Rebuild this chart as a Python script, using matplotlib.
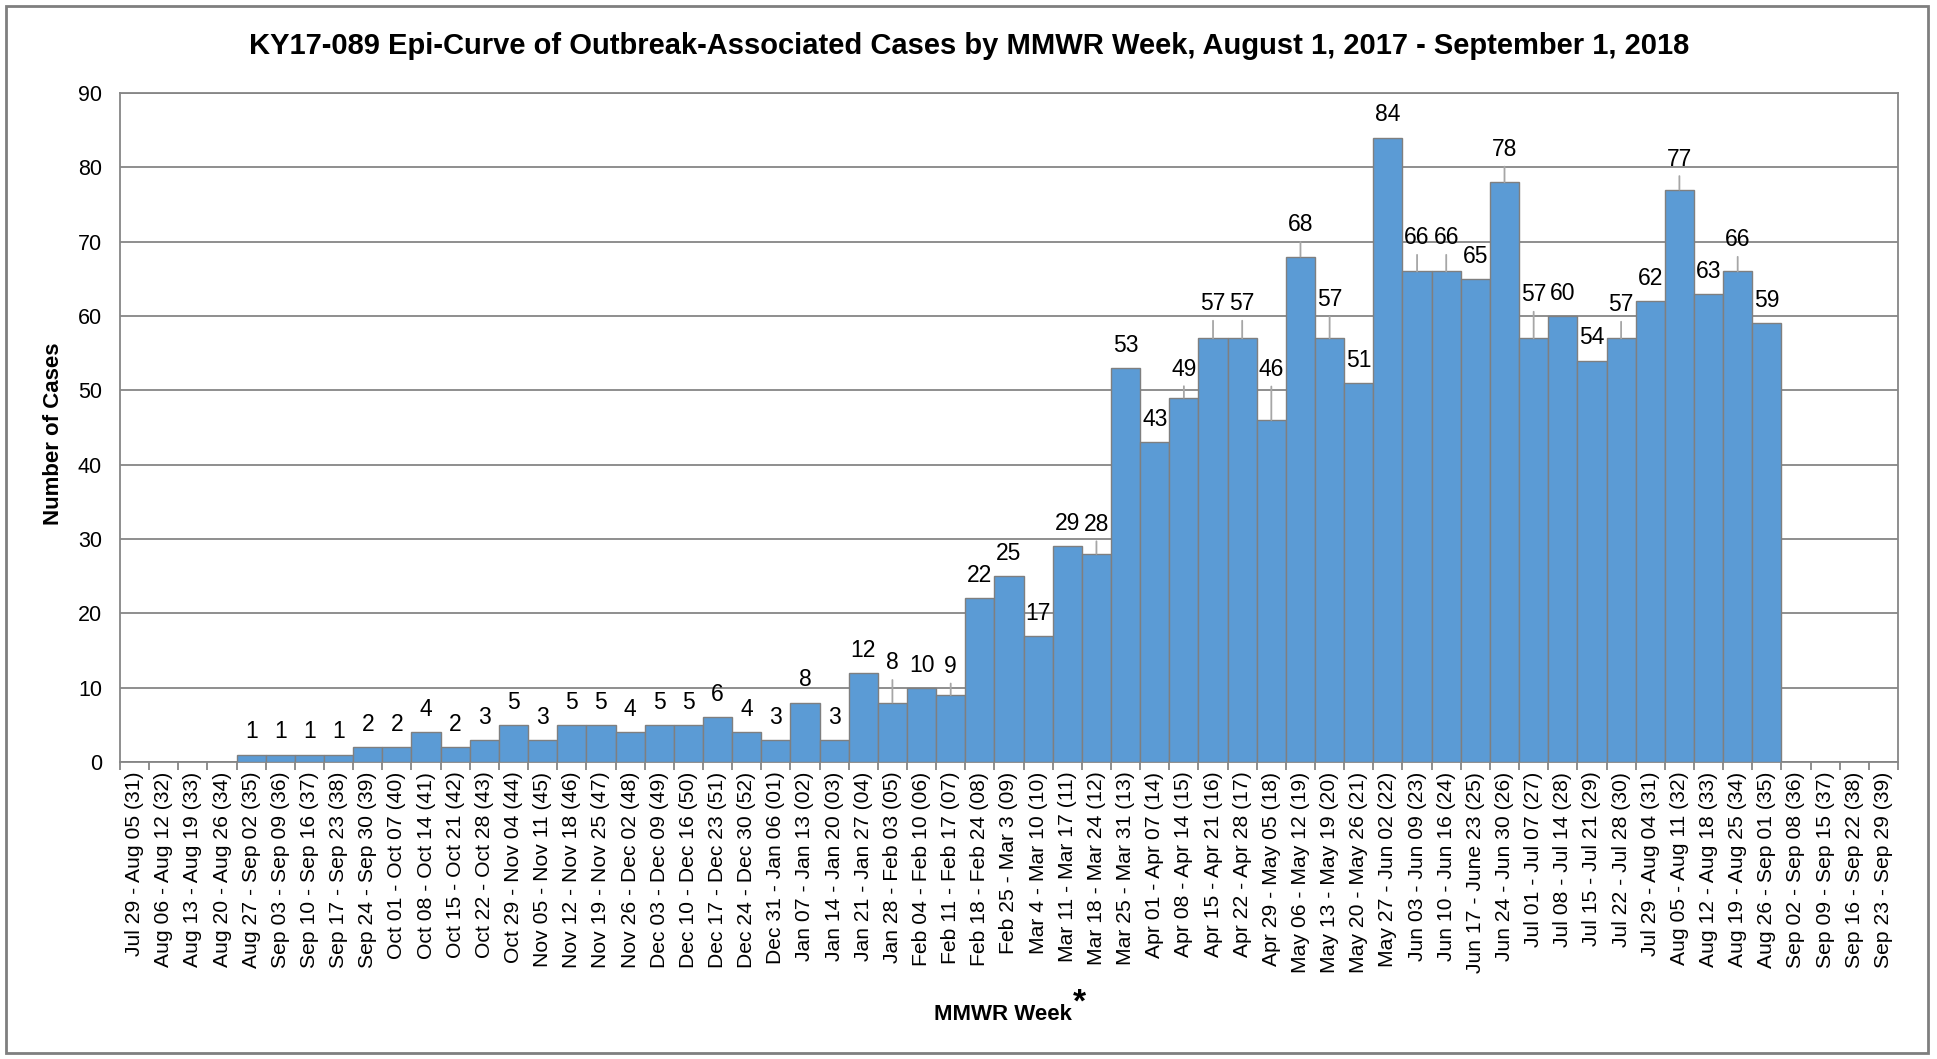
import matplotlib
matplotlib.use("Agg")
import matplotlib.pyplot as plt
from matplotlib.patches import Rectangle

plt.rcParams['font.family'] = ['Liberation Sans', 'DejaVu Sans']

week_labels = [
    "Jul 29 - Aug 05 (31)", "Aug 06 - Aug 12 (32)", "Aug 13 - Aug 19 (33)", "Aug 20 - Aug 26 (34)",
    "Aug 27 - Sep 02 (35)", "Sep 03 - Sep 09 (36)", "Sep 10 - Sep 16 (37)", "Sep 17 - Sep 23 (38)",
    "Sep 24 - Sep 30 (39)", "Oct 01 - Oct 07 (40)", "Oct 08 - Oct 14 (41)", "Oct 15 - Oct 21 (42)",
    "Oct 22 - Oct 28 (43)", "Oct 29 - Nov 04 (44)", "Nov 05 - Nov 11 (45)", "Nov 12 - Nov 18 (46)",
    "Nov 19 - Nov 25 (47)", "Nov 26 - Dec 02 (48)", "Dec 03 - Dec 09 (49)", "Dec 10 - Dec 16 (50)",
    "Dec 17 - Dec 23 (51)", "Dec 24 - Dec 30 (52)", "Dec 31 - Jan 06 (01)", "Jan 07 - Jan 13 (02)",
    "Jan 14 - Jan 20 (03)", "Jan 21 - Jan 27 (04)", "Jan 28 - Feb 03 (05)", "Feb 04 - Feb 10 (06)",
    "Feb 11 - Feb 17 (07)", "Feb 18 - Feb 24 (08)", "Feb 25 - Mar 3 (09)", "Mar 4 - Mar 10 (10)",
    "Mar 11 - Mar 17 (11)", "Mar 18 - Mar 24 (12)", "Mar 25 - Mar 31 (13)", "Apr 01 - Apr 07 (14)",
    "Apr 08 - Apr 14 (15)", "Apr 15 - Apr 21 (16)", "Apr 22 - Apr 28 (17)", "Apr 29 - May 05 (18)",
    "May 06 - May 12 (19)", "May 13 - May 19 (20)", "May 20 - May 26 (21)", "May 27 - Jun 02 (22)",
    "Jun 03 - Jun 09 (23)", "Jun 10 - Jun 16 (24)", "Jun 17 - June 23 (25)", "Jun 24 - Jun 30 (26)",
    "Jul 01 - Jul 07 (27)", "Jul 08 - Jul 14 (28)", "Jul 15 - Jul 21 (29)", "Jul 22 - Jul 28 (30)",
    "Jul 29 - Aug 04 (31)", "Aug 05 - Aug 11 (32)", "Aug 12 - Aug 18 (33)", "Aug 19 - Aug 25 (34)",
    "Aug 26 - Sep 01 (35)", "Sep 02 - Sep 08 (36)", "Sep 09 - Sep 15 (37)", "Sep 16 - Sep 22 (38)",
    "Sep 23 - Sep 29 (39)",
]

cases = [
    0, 0, 0, 0, 1, 1, 1, 1, 2, 2, 4, 2, 3, 5, 3, 5, 5, 4, 5, 5, 6, 4,
    3, 8, 3, 12, 8, 10, 9, 22, 25, 17, 29, 28, 53, 43, 49, 57, 57, 46,
    68, 57, 51, 84, 66, 66, 65, 78, 57, 60, 54, 57, 62, 77, 63, 66, 59,
    0, 0, 0, 0,
]

y_ticks = [0, 10, 20, 30, 40, 50, 60, 70, 80, 90]

# Extra lift (in pixels) of data labels that were dragged up in the original, shown with leader lines
label_lift_px = {26: 17, 28: 6, 33: 7, 36: 6, 37: 12, 38: 12, 39: 28, 40: 9, 41: 16,
                 44: 11, 45: 11, 47: 10, 48: 21, 51: 11, 53: 8, 55: 9}

W, H = 1937, 1059
fig = plt.figure(figsize=(W / 100, H / 100), dpi=100)
ax = fig.add_axes([120 / W, 1 - 762 / H, (1898 - 120) / W, (762 - 93) / H])

x = list(range(len(cases)))
ax.bar(x, cases, width=1.0, color='#5B9BD5', edgecolor='#7F7F7F', linewidth=1.0, zorder=3)

for xi, v in zip(x, cases):
    if v <= 0:
        continue
    lift = label_lift_px.get(xi, 0)
    off_pt = 8 + lift * 0.72
    kw = {}
    if lift > 0:
        kw['arrowprops'] = dict(arrowstyle='-', color='#A6A6A6', lw=1.3,
                                shrinkA=2, shrinkB=0)
    ax.annotate(str(v), (xi, v), xytext=(0, off_pt), textcoords='offset points',
                ha='center', va='bottom', fontsize=16.5, color='#000000', zorder=4,
                annotation_clip=False, **kw)

ax.set_xlim(-0.5, len(cases) - 0.5)
ax.set_ylim(0, 90)
ax.set_yticks(y_ticks)
ax.set_yticklabels([str(t) for t in y_ticks], fontsize=15.5)
ax.tick_params(axis='y', length=0, pad=13)
ax.yaxis.grid(True, color='#868686', linewidth=1.3, zorder=0)
ax.set_axisbelow(True)

ax.set_xticks(x)
ax.set_xticklabels(week_labels, rotation=90, fontsize=15.2)
ax.tick_params(axis='x', which='major', length=0, pad=7)
ax.set_xticks([i - 0.5 for i in range(len(cases) + 1)], minor=True)
ax.tick_params(axis='x', which='minor', length=6, width=1.3, color='#868686', direction='out')

for s in ax.spines.values():
    s.set_color('#868686')
    s.set_linewidth(1.3)

fig.text(54 / W, 1 - 434 / H, "Number of Cases", rotation=90, ha='center', va='center',
         fontsize=16, fontweight='bold')

fig.text(969 / W, 1 - 46 / H,
         "KY17-089 Epi-Curve of Outbreak-Associated Cases by MMWR Week, August 1, 2017 - September 1, 2018",
         ha='center', va='center', fontsize=21, fontweight='bold')
fig.text(1072 / W, 1 - 1015 / H, "MMWR Week", ha='right', va='center', fontsize=16, fontweight='bold')
fig.text(1073 / W, 1 - 1003 / H, "*", ha='left', va='center', fontsize=24, fontweight='bold')

fig.patches.append(Rectangle((6 / W, 6 / H), (1928 - 6) / W, (1053 - 6) / H,
                             transform=fig.transFigure, fill=False,
                             edgecolor='#7F7F7F', linewidth=2))

fig.savefig("out.png", dpi=100)
